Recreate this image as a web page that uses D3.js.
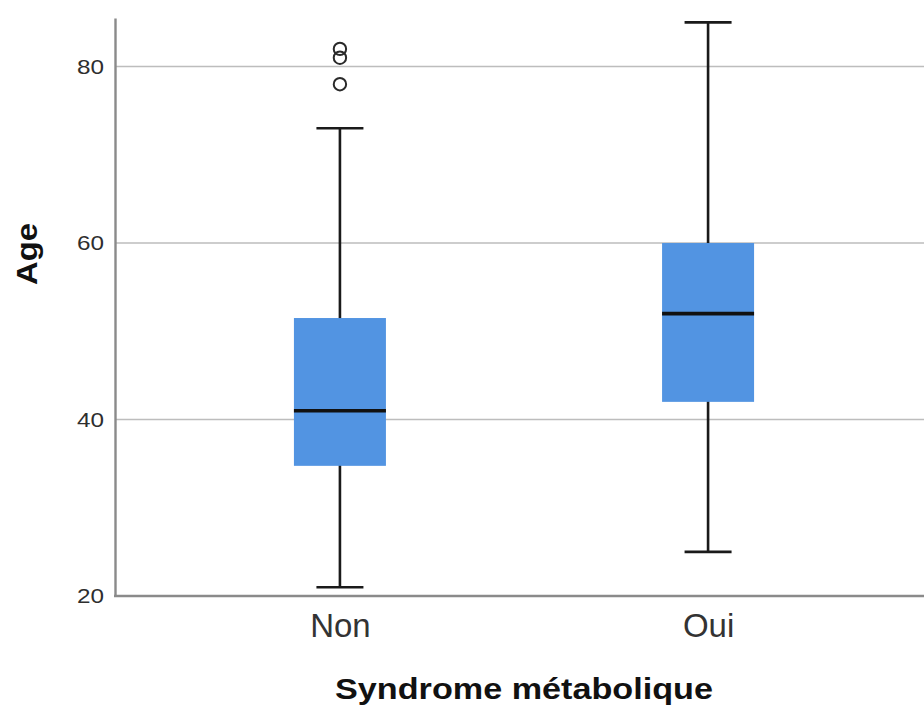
<!DOCTYPE html>
<html>
<head>
<meta charset="utf-8">
<script src="https://cdn.jsdelivr.net/npm/d3@7"></script>
<style>
  html, body { margin: 0; padding: 0; background: #fff; }
  svg { display: block; }
  text { font-family: Arial, "Liberation Sans", sans-serif; }
</style>
</head>
<body>
<svg id="chart" width="924" height="707"></svg>
<script>
// Age by metabolic syndrome status (five-number summaries + outliers)
const groups = ["Non", "Oui"];
const whiskerLow = [21, 25];
const quartile1 = [34.75, 42];
const medians = [41, 52];
const quartile3 = [51.5, 60];
const whiskerHigh = [73, 85];
const outliers = [[82, 81, 78], []];
const yTicks = [20, 40, 60, 80];

const svg = d3.select("#chart");

const y = d3.scaleLinear().domain([20, 85.5]).range([596, 18]);
const x = d3.scalePoint().domain(groups).range([115, 933]).padding(0.611);

const boxW = 92, capW = 47;

// horizontal gridlines
svg.append("g").selectAll("line")
  .data(yTicks.filter(t => t > 20))
  .join("line")
  .attr("x1", 115).attr("x2", 924)
  .attr("y1", d => y(d)).attr("y2", d => y(d))
  .attr("stroke", "#bdbdbd").attr("stroke-width", 1.6);

// y axis
const yAxis = svg.append("g")
  .attr("transform", "translate(115,0)")
  .call(d3.axisLeft(y).tickValues(yTicks).tickSize(0).tickPadding(11).tickFormat(d3.format("d")));
yAxis.select(".domain").attr("stroke", "#8a8a8a").attr("stroke-width", 2.4);
yAxis.selectAll("text")
  .attr("font-size", 21).attr("fill", "#2e2e2e")
  .attr("textLength", 27).attr("lengthAdjust", "spacingAndGlyphs");

// x axis
const xAxis = svg.append("g")
  .attr("transform", "translate(0,596)")
  .call(d3.axisBottom(x).tickSize(0).tickPadding(17));
xAxis.select(".domain").attr("stroke", "#8a8a8a").attr("stroke-width", 2.4)
  .attr("d", "M114,0H924");
xAxis.selectAll("text")
  .attr("font-size", 33).attr("fill", "#333").attr("dy", "0.72em");

const idx = d3.range(groups.length);

// whiskers
const wh = svg.append("g").attr("stroke", "#1a1a1a").attr("stroke-width", 2.6);
wh.selectAll("line.stem").data(idx).join("line").attr("class", "stem")
  .attr("x1", i => x(groups[i])).attr("x2", i => x(groups[i]))
  .attr("y1", i => y(whiskerLow[i])).attr("y2", i => y(whiskerHigh[i]));
wh.selectAll("line.capLo").data(idx).join("line").attr("class", "capLo")
  .attr("x1", i => x(groups[i]) - capW / 2).attr("x2", i => x(groups[i]) + capW / 2)
  .attr("y1", i => y(whiskerLow[i])).attr("y2", i => y(whiskerLow[i]));
wh.selectAll("line.capHi").data(idx).join("line").attr("class", "capHi")
  .attr("x1", i => x(groups[i]) - capW / 2).attr("x2", i => x(groups[i]) + capW / 2)
  .attr("y1", i => y(whiskerHigh[i])).attr("y2", i => y(whiskerHigh[i]));

// boxes
svg.append("g").selectAll("rect").data(idx).join("rect")
  .attr("x", i => x(groups[i]) - boxW / 2)
  .attr("width", boxW)
  .attr("y", i => y(quartile3[i]))
  .attr("height", i => y(quartile1[i]) - y(quartile3[i]))
  .attr("fill", "#5294e2");

// medians
svg.append("g").selectAll("line").data(idx).join("line")
  .attr("x1", i => x(groups[i]) - boxW / 2).attr("x2", i => x(groups[i]) + boxW / 2)
  .attr("y1", i => y(medians[i])).attr("y2", i => y(medians[i]))
  .attr("stroke", "#111").attr("stroke-width", 3.6);

// outliers
svg.append("g").selectAll("circle")
  .data(idx.flatMap(i => outliers[i].map(v => ({ g: groups[i], v }))))
  .join("circle")
  .attr("cx", d => x(d.g)).attr("cy", d => y(d.v))
  .attr("r", 6.2)
  .attr("fill", "none").attr("stroke", "#2a2a2a").attr("stroke-width", 2);

// axis titles
svg.append("text")
  .attr("x", 524).attr("y", 699)
  .attr("text-anchor", "middle")
  .attr("font-size", 29).attr("font-weight", "bold").attr("fill", "#111")
  .attr("textLength", 378).attr("lengthAdjust", "spacingAndGlyphs")
  .text("Syndrome métabolique");

svg.append("text")
  .attr("transform", "translate(37,254) rotate(-90)")
  .attr("text-anchor", "middle")
  .attr("font-size", 29).attr("font-weight", "bold").attr("fill", "#111")
  .attr("textLength", 62).attr("lengthAdjust", "spacingAndGlyphs")
  .text("Age");
</script>
</body>
</html>
